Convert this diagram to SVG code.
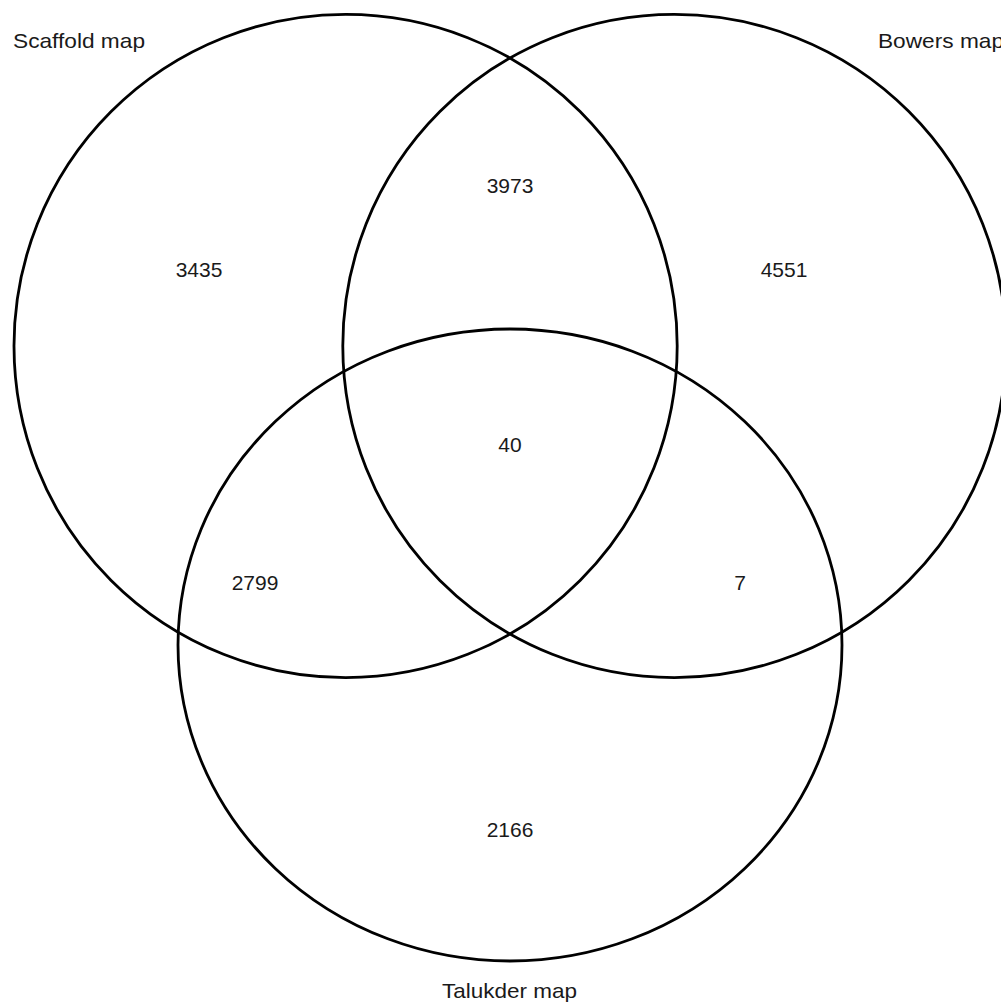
<svg xmlns="http://www.w3.org/2000/svg" width="1001" height="1007" viewBox="0 0 1001 1007">
<style>
.set{fill:none;stroke:#000;stroke-width:2.8}
.lbl{font-family:"Liberation Sans",Arial,sans-serif;font-size:21px;fill:#1a1a1a}
.num{font-family:"Liberation Sans",Arial,sans-serif;font-size:21px;fill:#1a1a1a;text-anchor:middle}
</style>
<rect width="1001" height="1007" fill="#fff"/>
<g id="scaffold">
<circle class="set" cx="345.6" cy="346" r="331.6"/>
<text class="lbl" x="13" y="48" textLength="132" lengthAdjust="spacingAndGlyphs">Scaffold map</text>
</g>
<g id="bowers">
<circle class="set" cx="674.4" cy="346" r="331.6"/>
<text class="lbl" x="878" y="48" textLength="126" lengthAdjust="spacingAndGlyphs">Bowers map</text>
</g>
<g id="talukder">
<ellipse class="set" cx="510" cy="645" rx="332" ry="316"/>
<text class="lbl" x="442" y="998" textLength="135" lengthAdjust="spacingAndGlyphs">Talukder map</text>
</g>
<g id="regions">
<text class="num" x="199" y="277">3435</text>
<text class="num" x="510" y="193">3973</text>
<text class="num" x="784" y="277">4551</text>
<text class="num" x="510" y="452">40</text>
<text class="num" x="255" y="590">2799</text>
<text class="num" x="740" y="590">7</text>
<text class="num" x="510" y="837">2166</text>
</g>
</svg>
